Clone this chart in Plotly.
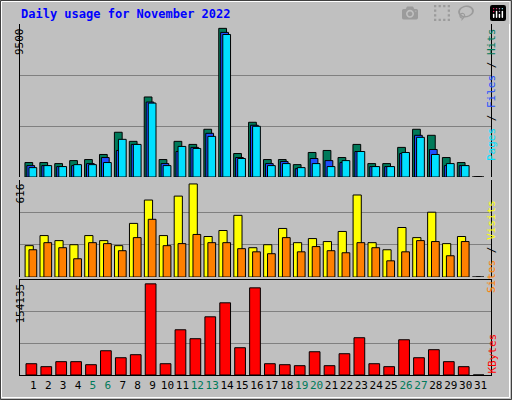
import plotly.graph_objects as go

days = list(range(1, 32))
day_labels = [str(d) for d in days]
weekend_days = [5, 6, 12, 13, 19, 20, 26, 27]
hits = [900,900,835,1020,1085,1400,2780,2215,4970,1085,2215,2025,2965,9230,1460,3400,1085,1085,770,1525,1650,1210,2025,835,835,1840,2965,2590,1210,900,0]
files = [710,710,650,710,835,1210,1650,2025,4655,835,1585,1840,2715,8980,1210,3215,835,960,520,1150,1020,900,1585,650,650,1460,2590,1710,710,710,0]
pages = [585,710,650,770,770,900,2340,2025,4590,710,1900,1775,2525,8850,1150,3150,710,835,585,835,650,1020,1585,650,650,1525,2465,1400,835,710,0]
visits = [199,263,231,205,263,231,199,340,488,263,513,590,257,295,391,186,205,308,218,244,225,289,520,218,173,314,250,411,212,257,0]
sites = [173,218,186,116,218,212,167,250,366,199,212,270,218,218,180,160,148,250,160,193,167,154,218,186,103,160,231,225,135,225,0]
kbytes = [18300,13500,21600,21600,16700,39300,28000,32900,147700,18300,73300,58800,94300,117000,44200,141200,18300,16700,15100,37700,15100,34500,60400,18300,13500,57100,28000,41000,21600,13500,0]
max_hits, max_visits, max_kb = 9500, 616, 154135

C_HITS, C_FILES, C_PAGES = "#007a5a", "#1f4fff", "#00e0ff"
C_VIS, C_SITES, C_KB = "#ffff00", "#ff8000", "#ff0000"
line = dict(color="black", width=1)

fig = go.Figure()
def bar(y, color, off, w, ax):
    fig.add_trace(go.Bar(x=days, y=y, marker=dict(color=color, line=line),
                         offset=off, width=w, xaxis="x", yaxis=ax, showlegend=False))
bar(hits, C_HITS, -0.56, 0.52, "y")
bar(files, C_FILES, -0.43, 0.52, "y")
bar(pages, C_PAGES, -0.29, 0.52, "y")
bar(visits, C_VIS, -0.55, 0.55, "y2")
bar(sites, C_SITES, -0.29, 0.52, "y2")
bar(kbytes, C_KB, -0.49, 0.72, "y3")

ticktext = [f"<span style='color:#007a5a'>{l}</span>" if d in weekend_days else l
            for d, l in zip(days, day_labels)]

def yax(dom, mx):
    return dict(domain=dom, range=[0, mx], tickvals=[mx/3, 2*mx/3], showticklabels=False,
                gridcolor="#808080", gridwidth=1, zeroline=False, showline=True,
                linecolor="black", mirror=True, ticks="", fixedrange=True)

fig.update_layout(
    width=512, height=400, margin=dict(l=20, r=21, t=24, b=25, autoexpand=False),
    paper_bgcolor="#c0c0c0", plot_bgcolor="#c0c0c0", barmode="overlay",
    font=dict(family="DejaVu Sans Mono", size=11, color="black"),
    xaxis=dict(range=[0.108, 31.7], tickvals=days, ticktext=ticktext, showgrid=False,
               showline=True, linecolor="black", mirror=True, ticks="", anchor="y3",
               tickangle=0, tickfont=dict(size=11), fixedrange=True),
    yaxis=yax([0.564, 1], max_hits),
    yaxis2=yax([0.279, 0.556], max_visits),
    yaxis3=yax([0, 0.271], max_kb),
)

ann = [
    dict(x=19, y=14, text="<b>Daily usage for November 2022</b>", font=dict(color="#0000ff", size=12), xanchor="left"),
    dict(x=11, y=26, text=str(max_hits), textangle=-90, yanchor="top"),
    dict(x=11, y=182, text=str(max_visits), textangle=-90, yanchor="top"),
    dict(x=11, y=282, text=str(max_kb), textangle=-90, yanchor="top"),
    dict(x=500, y=26, textangle=-90, yanchor="top",
         text=f"<span style='color:{C_PAGES}'>Pages</span> / <span style='color:{C_FILES}'>Files</span> / <span style='color:{C_HITS}'>Hits</span>"),
    dict(x=500, y=198, textangle=-90, yanchor="top",
         text=f"<span style='color:{C_SITES}'>Sites</span> / <span style='color:{C_VIS}'>Visits</span>"),
    dict(x=500, y=332, textangle=-90, yanchor="top", text=f"<span style='color:{C_KB}'>KBytes</span>"),
]
for a in ann:
    a.update(xref="paper", yref="paper", showarrow=False)
    a["x"] = (a["x"] - 20) / 471
    a["y"] = (375 - a["y"]) / 351
    if "yanchor" not in a:
        a["yanchor"] = "middle"
fig.update_layout(annotations=ann)

def px(x0, y0, x1, y1, color, w=1):
    return dict(type="rect", xref="paper", yref="paper", x0=(x0-20)/471, x1=(x1-20)/471,
                y0=(375-y0)/351, y1=(375-y1)/351, line=dict(color=color, width=w), layer="above")
fig.update_layout(shapes=[
    px(1.5, 1.5, 509.5, 397.5, "#ffffff", 1),
    px(0.5, 0.5, 511.5, 399.5, "#404040", 1),
])

fig.write_html("out.html", post_script="document.body.style.margin='0';document.body.style.padding='0';")
